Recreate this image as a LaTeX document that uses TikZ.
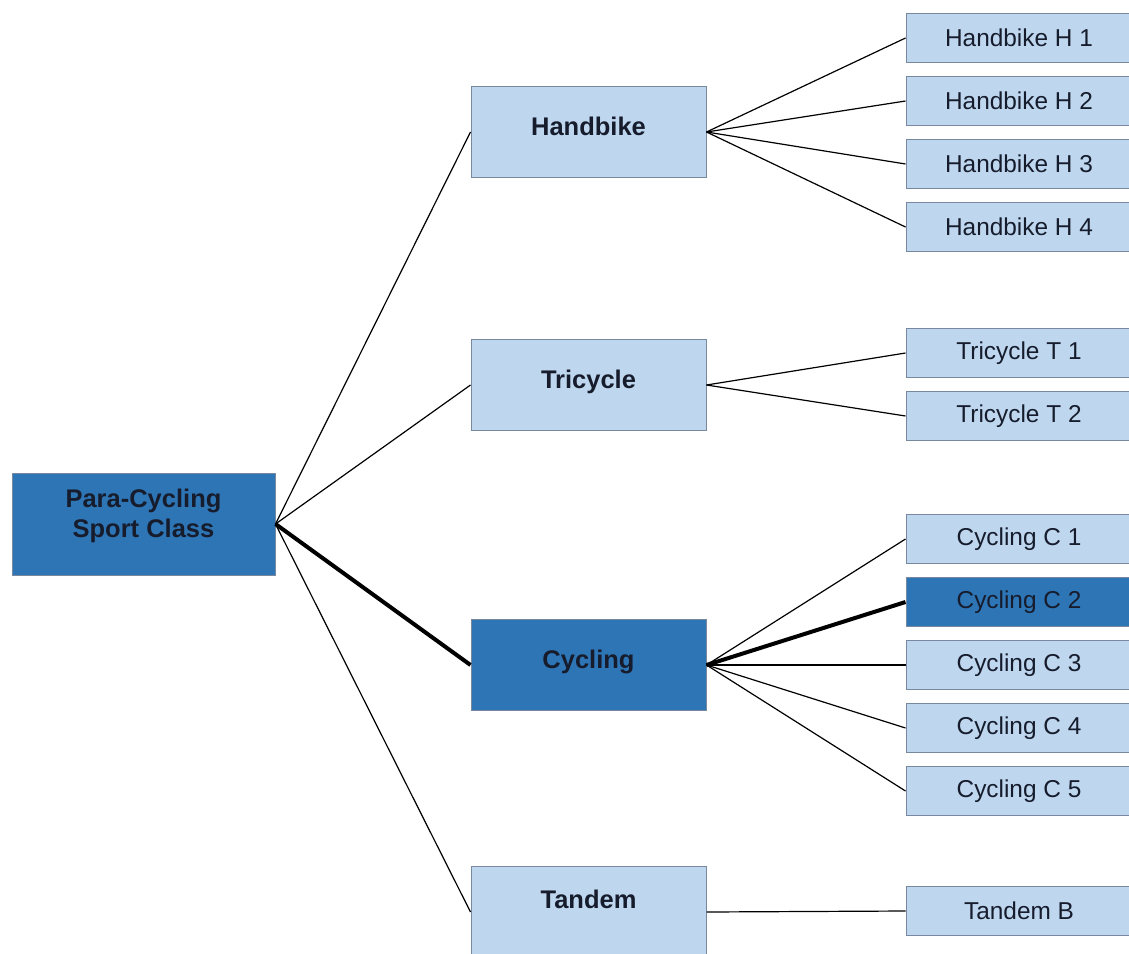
\documentclass[tikz,border=0pt]{standalone}
\usepackage{fontspec}
\setmainfont{Liberation Sans}
\usepackage{tikz}
\usetikzlibrary{positioning}

\definecolor{boxlight}{RGB}{190,215,239}
\definecolor{boxdark}{RGB}{46,117,182}
\definecolor{boxline}{RGB}{120,136,158}
\definecolor{textdark}{RGB}{22,28,44}

\tikzset{
  classbox/.style={draw=boxline, line width=1pt, fill=boxlight, text=textdark,
    inner sep=0pt, align=center},
  rootbox/.style={classbox, minimum width=263pt, minimum height=102pt,
    font=\fontsize{25.5}{30}\selectfont\bfseries},
  groupbox/.style={classbox, minimum width=235pt, minimum height=91pt,
    font=\fontsize{25.5}{29}\selectfont\bfseries},
  leafbox/.style={classbox, minimum width=226pt, minimum height=49pt,
    font=\fontsize{24.4}{28}\selectfont},
  picked/.style={fill=boxdark},
  branch/.style={line width=1.2pt, black},
  thickbranch/.style={line width=4pt, black}
}

\begin{document}
\begin{tikzpicture}[x=1pt, y=-1pt]
    \useasboundingbox (0, 0) rectangle (1129, 953);
    \fill [white] (0, 0) rectangle (1129, 953);
    \clip (0, 0) rectangle (1129, 953);

    \node [rootbox, picked] (root) at (143.5, 524) {Para-Cycling\\Sport Class\\[-8pt]};

    \node [groupbox] (handbike) at (588.5, 132) {Handbike\\[-18pt]};
    \node [groupbox] (tricycle) at (588.5, 385) {Tricycle\\[-18pt]};
    \node [groupbox, picked] (cycling) at (588.5, 665) {Cycling\\[-18pt]};
    \node [groupbox] (tandem) at (588.5, 912) {Tandem\\[-4pt]};

    \node [leafbox] (h1) at (1019, 38) {Handbike H 1};
    \node [leafbox] (h2) at (1019, 101) {Handbike H 2};
    \node [leafbox] (h3) at (1019, 164) {Handbike H 3};
    \node [leafbox] (h4) at (1019, 227) {Handbike H 4};

    \node [leafbox] (t1) at (1019, 353) {Tricycle T 1};
    \node [leafbox] (t2) at (1019, 416) {Tricycle T 2};

    \node [leafbox] (c1) at (1019, 539) {Cycling C 1};
    \node [leafbox, picked] (c2) at (1019, 602) {Cycling C 2};
    \node [leafbox] (c3) at (1019, 665) {Cycling C 3};
    \node [leafbox] (c4) at (1019, 728) {Cycling C 4};
    \node [leafbox] (c5) at (1019, 791) {Cycling C 5};

    \node [leafbox] (tb) at (1019, 911) {Tandem B};

    % root to groups
    \draw [branch] (root.east) -- (handbike.west);
    \draw [branch] (root.east) -- (tricycle.west);
    \draw [thickbranch] (root.east) -- (cycling.west);
    \draw [branch] (root.east) -- (tandem.west);

    % groups to classes
    \foreach \leaf in {h1, h2, h3, h4}
      \draw [branch] (handbike.east) -- (\leaf.west);
    \foreach \leaf in {t1, t2}
      \draw [branch] (tricycle.east) -- (\leaf.west);
    \foreach \leaf in {c1, c3, c4, c5}
      \draw [branch] (cycling.east) -- (\leaf.west);
    \draw [thickbranch] (cycling.east) -- (c2.west);
    \draw [branch] (tandem.east) -- (tb.west);
  \end{tikzpicture}
\end{document}
